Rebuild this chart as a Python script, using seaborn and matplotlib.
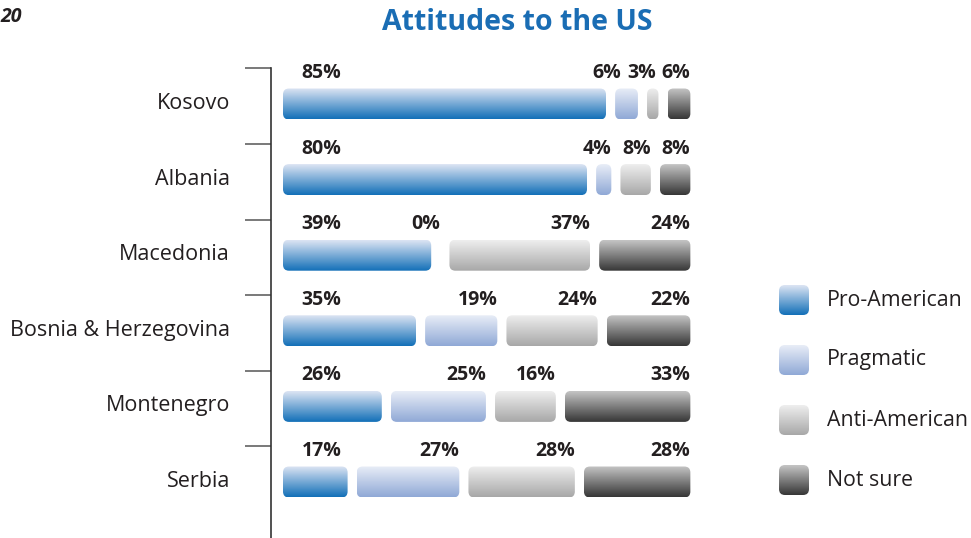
import numpy as np
import pandas as pd
import seaborn as sns
import matplotlib.pyplot as plt
from matplotlib.patches import FancyBboxPatch
from matplotlib.colors import LinearSegmentedColormap

# ============================================================= #
# ============================ Data =========================== #
# ============================================================= #
countries = ["Kosovo", "Albania", "Macedonia", "Bosnia & Herzegovina", "Montenegro", "Serbia"]
pro_american = [85, 80, 39, 35, 26, 17]
pragmatic = [6, 4, 0, 19, 25, 27]
anti_american = [3, 8, 37, 24, 16, 28]
not_sure = [6, 8, 24, 22, 33, 28]
groups = ["Pro-American", "Pragmatic", "Anti-American", "Not sure"]

# top / bottom colour of each gradient
shades = {
    "Pro-American": ("#dce4f3", "#1370b8"),
    "Pragmatic": ("#e8edf7", "#90a9d6"),
    "Anti-American": ("#eeeeee", "#a8a8a8"),
    "Not sure": ("#c4c4c4", "#373737"),
}

GAP = 2.4       # space between segments, in percent units
PX_X = 3.8      # pixels per percent
PX_Y = 75.6     # pixels per row
RADIUS = 6      # corner radius in pixels

df = pd.DataFrame({"country": countries, "Pro-American": pro_american,
                   "Pragmatic": pragmatic, "Anti-American": anti_american,
                   "Not sure": not_sure})
long = df.melt(id_vars="country", var_name="group", value_name="share")

# left edge of every segment: previous segments + gaps
starts = {}
acc = np.zeros(len(countries))
for k, g in enumerate(groups):
    starts[g] = acc + GAP * k
    acc = acc + df[g].to_numpy()

# ============================================================= #
# =========================== Plot ============================ #
# ============================================================= #
sns.set_style("white")
plt.rcParams["font.family"] = ["Open Sans", "DejaVu Sans"]

fig = plt.figure(figsize=(9.71, 5.38), dpi=100)
ax = fig.add_axes([271 / 971, 0, 429 / 971, 470 / 538])

for g in groups:
    sub = long[long["group"] == g]
    sns.barplot(data=sub, x="share", y="country", order=countries, orient="y",
                left=starts[g], width=0.41, errorbar=None, color=shades[g][1], ax=ax)


def gradient_bar(ax, x, y, w, h, cmap):
    r = min(RADIUS / PX_X, w / 2)
    box = FancyBboxPatch((x, y), w, h, boxstyle=f"round,pad=0,rounding_size={r}",
                         mutation_aspect=PX_X / PX_Y, facecolor="none", edgecolor="none")
    ax.add_patch(box)
    img = ax.imshow(np.linspace(0, 1, 64).reshape(-1, 1), cmap=cmap,
                    extent=(x, x + w, y + h, y), origin="upper", aspect="auto",
                    interpolation="bilinear", zorder=2)
    img.set_clip_path(box)


# swap seaborn's flat rectangles for rounded gradient ones
for g, cont in zip(groups, ax.containers):
    cmap = LinearSegmentedColormap.from_list(g, shades[g])
    for bar in cont:
        bar.set_visible(False)
        if bar.get_width() <= 0:
            continue
        gradient_bar(ax, bar.get_x(), bar.get_y(), bar.get_width(), bar.get_height(), cmap)

ax.set_xlim(-12 / PX_X, 417 / PX_X)
ax.set_ylim(434 / PX_Y, -36 / PX_Y)

# value labels above the bars: first one sits at the left,
# the rest end at their segment, pushed left so they never collide
renderer = fig.canvas.get_renderer()
for i in range(len(countries)):
    limit = None
    for k in range(len(groups) - 1, -1, -1):
        g = groups[k]
        v = df[g][i]
        if k == 0:
            ax.text(4.9, i - 0.344, f"{v}%", ha="left", va="baseline",
                    fontsize=14, fontweight="bold", color="#231f20")
            continue
        x = starts[g][i] + v
        t = ax.text(x, i - 0.344, f"{v}%", ha="right", va="baseline",
                    fontsize=14, fontweight="bold", color="#231f20")
        bb = t.get_window_extent(renderer)
        if limit is not None and bb.x1 > limit:
            x -= (bb.x1 - limit) / PX_X
            t.set_x(x)
            bb = t.get_window_extent(renderer)
        limit = bb.x0 - 6

ax.set_xticks([])
ax.set_yticks([i - 0.04 for i in range(len(countries))], countries)
ax.set_yticks([i - 0.47 for i in range(len(countries))], minor=True)
ax.tick_params(axis="y", which="major", length=0, pad=29.5, labelsize=15.5, labelcolor="#231f20")
ax.tick_params(axis="y", which="minor", left=True, length=18.7, width=1.1, color="#555555")
ax.set_xlabel("")
ax.set_ylabel("")
for s in ["top", "right", "bottom"]:
    ax.spines[s].set_visible(False)
ax.spines["left"].set_color("#333333")
ax.spines["left"].set_linewidth(1.2)
ax.set_facecolor("none")

# legend on a pixel-space overlay
lax = fig.add_axes([0, 0, 1, 1], zorder=-1)
for j, g in enumerate(groups):
    cy = 300 + 60 * j
    box = FancyBboxPatch((779, cy - 15), 30, 30, boxstyle="round,pad=0,rounding_size=6",
                         facecolor="none", edgecolor="none")
    lax.add_patch(box)
    img = lax.imshow(np.linspace(0, 1, 64).reshape(-1, 1),
                     cmap=LinearSegmentedColormap.from_list(g, shades[g]),
                     extent=(779, 809, cy + 15, cy - 15), origin="upper", aspect="auto",
                     interpolation="bilinear")
    img.set_clip_path(box)
    lax.text(827, cy, g, ha="left", va="center", fontsize=15.3, color="#231f20")
lax.set_xlim(0, 971)
lax.set_ylim(538, 0)
lax.axis("off")

fig.text(517 / 971, 1 - 30 / 538, "Attitudes to the US", ha="center", va="baseline",
         fontsize=20.5, fontweight="bold", color="#1a6db4")
fig.text(0, 1 - 22 / 538, "20", ha="left", va="baseline", fontsize=14,
         fontweight="bold", fontstyle="italic", color="#231f20")

fig.savefig("out.png", dpi=100)
